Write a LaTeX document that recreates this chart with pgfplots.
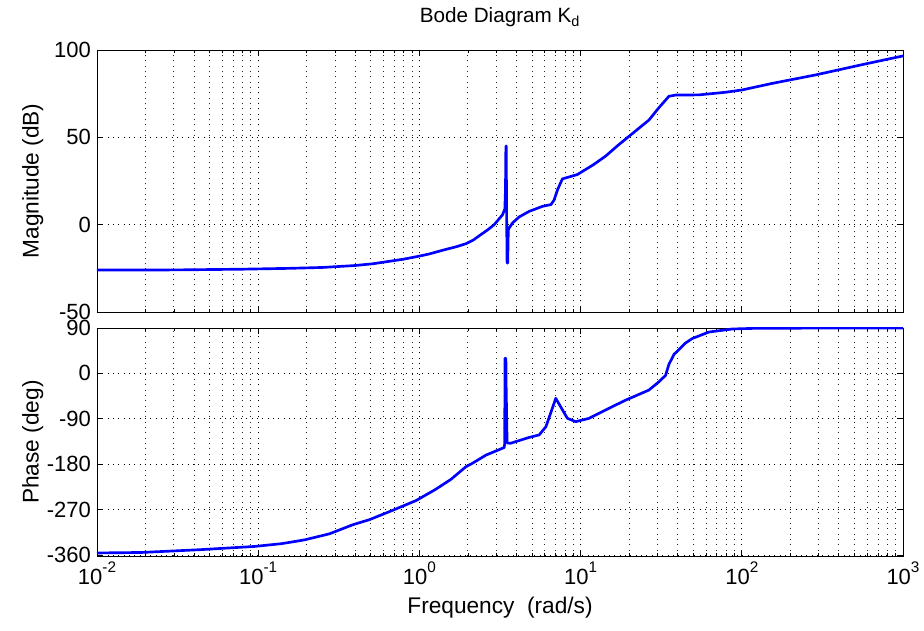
\documentclass[border=0pt]{standalone}
\usepackage{fontspec}
\setmainfont{Liberation Sans}
\usepackage{pgfplots}
\pgfplotsset{compat=1.18}
\pgfplotsset{
  bodestyle/.style={
    scale only axis,
    width=604.5pt,
    xmin=0.01, xmax=1000,
    xtick={0.01,0.1,1,10,100,1000},
    tick align=inside,
    major tick length=4.5pt,
    minor tick length=2.5pt,
    xtick pos=both, ytick pos=both,
    grid=both,
    major grid style={black, line width=0.7pt, dash pattern=on 0.7pt off 3.3pt},
    minor grid style={black!85, line width=0.7pt, dash pattern=on 0.7pt off 3.3pt},
    axis line style={black, line width=0.6pt},
    tick style={black, line width=0.6pt},
    /pgf/number format/assume math mode=true,
    tick label style={font=\fontsize{16.5}{19}\selectfont},
    label style={font=\fontsize{17}{20}\selectfont},
    yticklabel style={xshift=-1pt},
    ylabel style={at={(axis description cs:-0.0608,0.5)}, anchor=south},
  }
}
\newcommand{\dec}[1]{10\raisebox{1.05ex}{\fontsize{11.5}{12}\selectfont #1}}
\begin{document}
\begin{tikzpicture}
\useasboundingbox (0,0) rectangle (693pt,473.25pt);
\begin{semilogxaxis}[bodestyle,
  at={(72.75pt,239.25pt)}, anchor=south west,
  height=196.5pt,
  ymin=-50, ymax=100,
  ytick={-50,0,50,100},
  xticklabels={},
  ylabel={Magnitude (dB)},
  title={Bode Diagram K\textsubscript{d}},
  title style={font=\fontsize{15.5}{18}\selectfont, yshift=8pt},
]
\addplot[blue, line width=2pt, line join=round] coordinates {
(0.01,-26.0) (0.0316,-25.9) (0.0794,-25.5) (0.158,-25.0) (0.251,-24.5)
(0.398,-23.4) (0.513,-22.4) (0.794,-19.8) (1,-18.0) (1.148,-16.8)
(1.413,-14.5) (1.70,-12.6) (1.945,-10.9) (2.16,-8.8) (2.355,-6.3) (2.65,-3.0)
(2.911,0) (3.281,5.7) (3.388,9)
(3.42,20) (3.44,45) (3.46,45) (3.47,12) (3.50,-22) (3.53,-22) (3.56,-3)
(3.60,-2) (3.784,1) (4.169,4.5) (4.797,7.6) (5.808,10.5) (6.546,11.5)
(6.839,14) (7.194,20) (7.709,26.2) (9.550,28.7) (12.0,34.3) (14.32,39.3)
(17.0,45.3) (19.50,49.8) (23.0,55.2)
(26.55,59.9) (30.62,67) (35.32,73.5) (38.90,74.2) (54.20,74.3) (79.25,75.8)
(100,77.1) (154.9,80.9) (285.8,85.7) (583.4,92) (1000,96.6)
};
\end{semilogxaxis}
\begin{semilogxaxis}[bodestyle,
  at={(72.75pt,56.25pt)}, anchor=south west,
  height=171pt,
  ymin=-362, ymax=90,
  ytick={-360,-270,-180,-90,0,90},
  xticklabels={\dec{-2},\dec{-1},\dec{0},\dec{1},\dec{2},\dec{3}},
  xticklabel style={yshift=-1pt},
  ylabel={Phase (deg)},
  xlabel={Frequency\ \ (rad/s)},
  xlabel style={yshift=-2pt},
]
\addplot[blue, line width=2pt, line join=round] coordinates {
(0.01,-356) (0.01892,-355) (0.04345,-349.5) (0.0955,-343) (0.14,-337.5)
(0.1941,-330) (0.277,-318)
(0.3864,-300) (0.4898,-290) (0.676,-272) (0.955,-252) (1.259,-230)
(1.570,-210) (1.945,-185) (2.138,-178) (2.588,-162) (3.357,-147)
(3.38,-140) (3.40,30) (3.44,30) (3.45,-20) (3.50,-138) (3.681,-138.5)
(4.786,-127) (5.534,-122) (6.095,-105.6) (7.015,-49.5) (8.279,-89)
(9.333,-95.7) (11.30,-89) (15.03,-69) (19.05,-53) (26.55,-33) (30.62,-16.6)
(33.65,-4) (35.32,18) (38.02,38) (40.74,47) (44.67,60) (49.20,69)
(62.52,82) (87.10,88) (125.9,89.5) (1000,90)
};
\end{semilogxaxis}
\end{tikzpicture}
\end{document}
